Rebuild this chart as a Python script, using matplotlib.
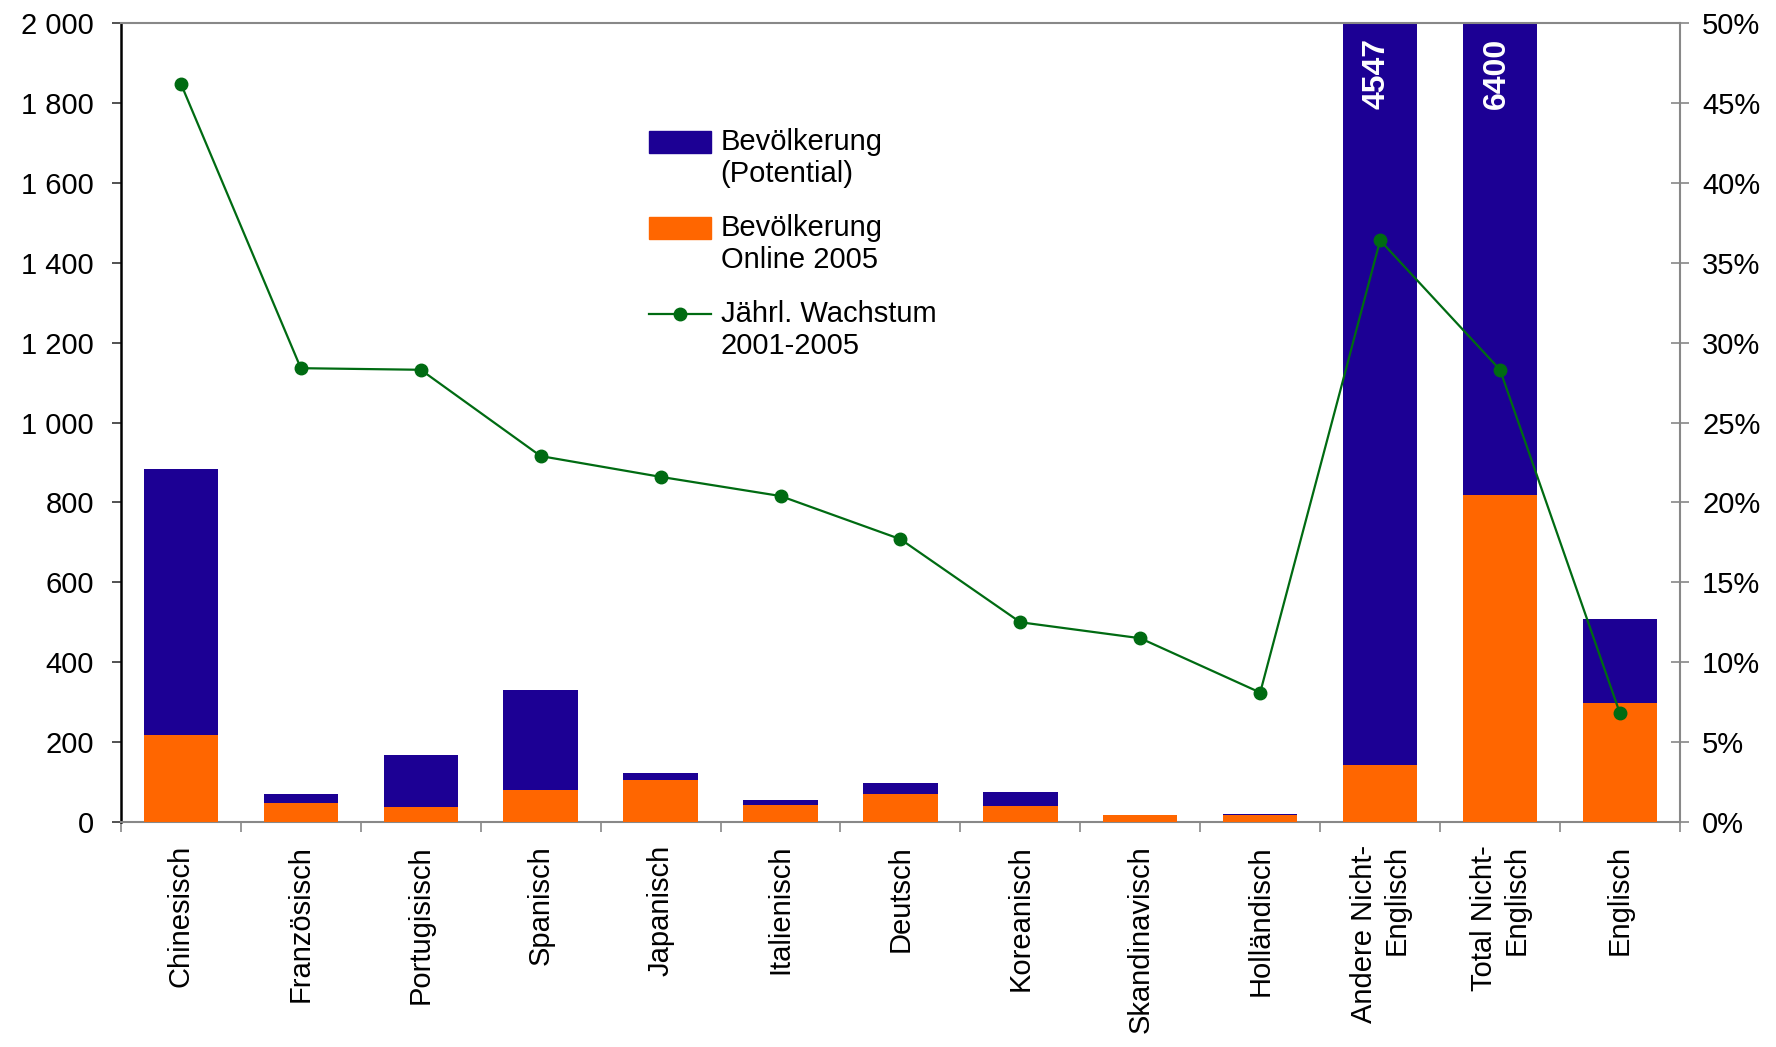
import matplotlib
matplotlib.use("Agg")
import matplotlib.pyplot as plt
from matplotlib.ticker import FuncFormatter, FixedLocator
from matplotlib.legend_handler import HandlerPatch, HandlerLine2D
from matplotlib.patches import Rectangle
from matplotlib.lines import Line2D
import numpy as np

categories = ["Chinesisch", "Französisch", "Portugisisch", "Spanisch", "Japanisch",
              "Italienisch", "Deutsch", "Koreanisch", "Skandinavisch", "Holländisch",
              "Andere Nicht-\nEnglisch", "Total Nicht-\nEnglisch", "Englisch"]
population = [883, 71, 168, 330, 122, 54, 97, 74, 18, 19, 4547, 6400, 508]
online_2005 = [219, 48, 37, 80, 105, 43, 71, 40, 17, 17, 142, 818, 298]
growth_pct = [46.2, 28.4, 28.3, 22.9, 21.6, 20.4, 17.7, 12.5, 11.5, 8.1, 36.4, 28.3, 6.8]
big_labels = {10: "4547", 11: "6400"}
legend_labels = ["Bevölkerung\n(Potential)", "Bevölkerung\nOnline 2005",
                 "Jährl. Wachstum\n2001-2005"]

plt.rcParams['font.family'] = ['Liberation Sans', 'DejaVu Sans']

BLUE = "#1c0094"
ORANGE = "#ff6600"
GREEN = "#006b12"
FS = 21


class TopPatch(HandlerPatch):
    def create_artists(self, legend, orig_handle, xdescent, ydescent, width, height,
                       fontsize, trans):
        s = 0.57 * fontsize
        return super().create_artists(legend, orig_handle, xdescent, ydescent - s,
                                      width, height, fontsize, trans)


class TopLine(HandlerLine2D):
    def create_artists(self, legend, orig_handle, xdescent, ydescent, width, height,
                       fontsize, trans):
        s = 0.57 * fontsize
        return super().create_artists(legend, orig_handle, xdescent, ydescent - 2 * s,
                                      width, height, fontsize, trans)


fig = plt.figure(figsize=(17.76, 10.47), dpi=100)
ax = fig.add_axes([0.0681, 0.2149, 0.8778, 0.7631])
x = np.arange(len(categories))
w = 0.62

ax.bar(x, population, width=w, color=BLUE, zorder=2)
ax.bar(x, online_2005, width=w, color=ORANGE, zorder=3)
ax.set_ylim(0, 2000)
ax.set_xlim(-0.5, len(categories) - 0.5)

for i, t in big_labels.items():
    ax.text(i - 0.03, 1963, t, rotation=90, ha="center", va="top", color="white",
            fontsize=23, fontweight="bold",
            family=["Liberation Sans Narrow", "Liberation Sans"], zorder=5)

ax.set_yticks(np.arange(0, 2001, 200))
ax.yaxis.set_major_formatter(FuncFormatter(lambda v, p: f"{int(v):,}".replace(",", " ")))
ax.tick_params(axis="y", direction="out", length=6.5, labelsize=FS, width=1.2, pad=13,
               color="#333333")

ax.set_xticks(x)
ax.set_xticklabels(categories, rotation=90, fontsize=FS, va="top", ha="center",
                   multialignment="right")
ax.tick_params(axis="x", which="major", length=0, pad=16.5)
ax.xaxis.set_minor_locator(FixedLocator(np.arange(-0.5, len(categories), 1.0)))
ax.tick_params(axis="x", which="minor", length=7, width=1.2, color="#888888",
               direction="out")

ax.spines["top"].set_color("#888888")
ax.spines["top"].set_linewidth(1.5)
ax.spines["bottom"].set_color("#888888")
ax.spines["bottom"].set_linewidth(1.5)
ax.spines["left"].set_linewidth(1.8)
ax.spines["right"].set_visible(False)

ax2 = ax.twinx()
ln, = ax2.plot(x, growth_pct, color=GREEN, lw=1.6, marker="o", markersize=9, zorder=6)
ax2.set_ylim(0, 50)
ax2.set_yticks(np.arange(0, 51, 5))
ax2.yaxis.set_major_formatter(FuncFormatter(lambda v, p: f"{int(v)}%"))
ax2.tick_params(axis="y", direction="inout", length=13, labelsize=FS, width=1.2,
                pad=9.5, color="#888888")
for s in ["top", "bottom", "left"]:
    ax2.spines[s].set_visible(False)
ax2.spines["right"].set_linewidth(1.5)
ax2.spines["right"].set_color("#888888")

h_blue = Rectangle((0, 0), 1, 1, color=BLUE)
h_orange = Rectangle((0, 0), 1, 1, color=ORANGE)
ax2.legend([h_blue, h_orange, ln], legend_labels, loc="upper left",
           bbox_to_anchor=(0.339, 0.869), frameon=False, fontsize=FS,
           handlelength=2.1, handleheight=0.75, labelspacing=0.88,
           handletextpad=0.34, borderpad=0, borderaxespad=0,
           handler_map={Rectangle: TopPatch(), Line2D: TopLine()})

fig.savefig("out.png", dpi=100, facecolor="white")
